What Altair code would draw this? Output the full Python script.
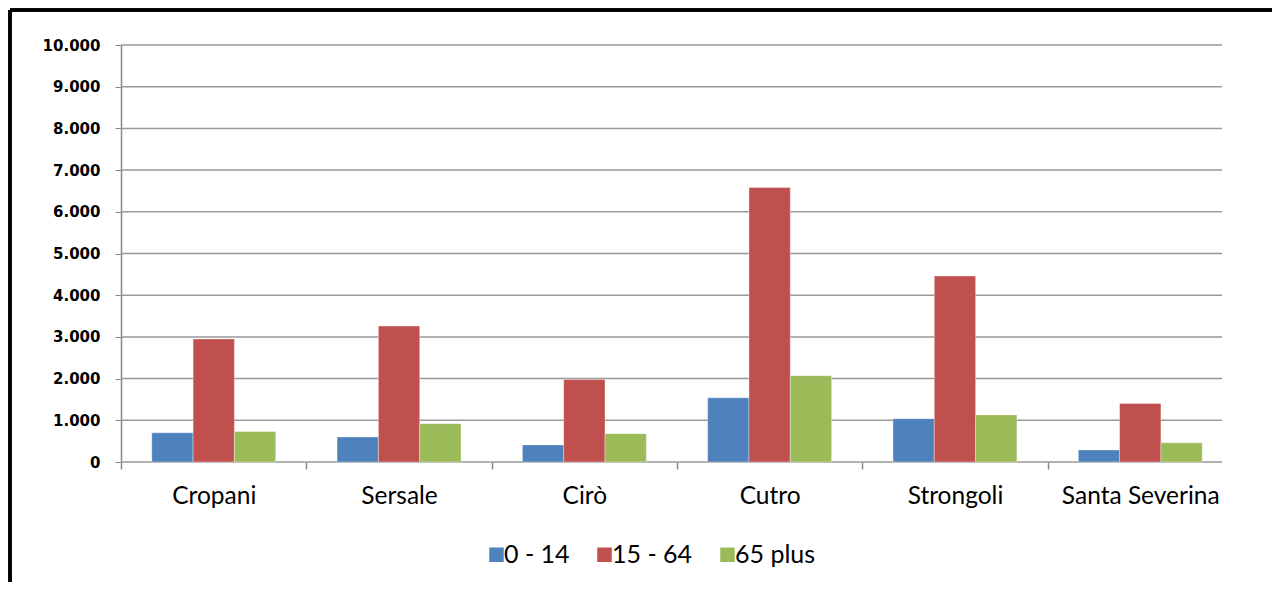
import altair as alt
import pandas as pd

comuni = ["Cropani", "Sersale", "Cirò", "Cutro", "Strongoli", "Santa Severina"]
fasce = ["0 - 14", "15 - 64", "65 plus"]
v_0_14 = [700, 600, 410, 1540, 1040, 290]
v_15_64 = [2950, 3260, 1980, 6580, 4460, 1400]
v_65 = [730, 920, 680, 2070, 1130, 460]
colori = ["#4F81BD", "#C0504D", "#9BBB59"]
y_ticks = [0, 1000, 2000, 3000, 4000, 5000, 6000, 7000, 8000, 9000, 10000]

rows = []
for serie, vals in zip(fasce, [v_0_14, v_15_64, v_65]):
    for c, v in zip(comuni, vals):
        rows.append({"comune": c, "fascia": serie, "valore": v})
df = pd.DataFrame(rows)
grid_df = pd.DataFrame({"valore": y_ticks})

half_step = 92.7
yscale = alt.Scale(domain=[0, 10000], nice=False)

grid = alt.Chart(grid_df).mark_rule(color="#999999", strokeWidth=1.5).encode(
    y=alt.Y("valore:Q", scale=yscale, title=None),
    x=alt.value(0), x2=alt.value(1101),
)

bars = alt.Chart(df).mark_bar(stroke="#ffffff", strokeOpacity=0.35, strokeWidth=1).encode(
    x=alt.X("comune:N", sort=comuni, title=None,
            scale=alt.Scale(range=[0, 1112], paddingInner=0.331, paddingOuter=0.166),
            axis=alt.Axis(labelAngle=0, tickOffset=alt.ExprRef(f"-{half_step}"), labelOffset=half_step,
                          labelFont="Lato", labelFontSize=24.5,
                          labelColor="#000000", labelPadding=15, tickSize=7, tickColor="#888888",
                          tickWidth=1.5, domain=False, grid=False)),
    xOffset=alt.XOffset("fascia:N", sort=fasce),
    y=alt.Y("valore:Q", title=None, scale=yscale,
            axis=alt.Axis(values=y_ticks,
                          labelExpr="datum.value == 0 ? '0' : format(datum.value / 1000, 'd') + '.000'",
                          labelFont="DejaVu Sans", labelFontSize=15, labelFontWeight="bold",
                          labelColor="#000000", labelPadding=15, tickSize=6, tickColor="#888888",
                          domainColor="#888888", domainWidth=1.5, grid=False)),
    color=alt.Color("fascia:N", sort=fasce, title=None,
                    scale=alt.Scale(domain=fasce, range=colori),
                    legend=alt.Legend(orient="none", legendX=363, legendY=497, direction="horizontal",
                                      symbolType="square", symbolSize=210, symbolStrokeWidth=0,
                                      labelFont="Lato", labelFontSize=25, labelColor="#000000",
                                      columnPadding=22, labelOffset=alt.ExprRef("-5"))),
)

frame_top = alt.Chart(grid_df).mark_rule(color="#000000", strokeWidth=2.5).encode(
    x=alt.value(-111), x2=alt.value(1151), y=alt.value(-35)
)
frame_left = alt.Chart(grid_df).mark_rule(color="#000000", strokeWidth=2.5).encode(
    x=alt.value(-111), y=alt.value(-35), y2=alt.value(560)
)

chart = alt.layer(grid, bars, frame_top, frame_left).properties(
    width=1101, height=417,
    autosize=alt.AutoSizeParams(type="none"),
    padding={"left": 113, "top": 37, "right": 50, "bottom": 120},
).configure_view(stroke=None)

chart.save("out.html", embed_options={"renderer": "svg", "actions": False})
